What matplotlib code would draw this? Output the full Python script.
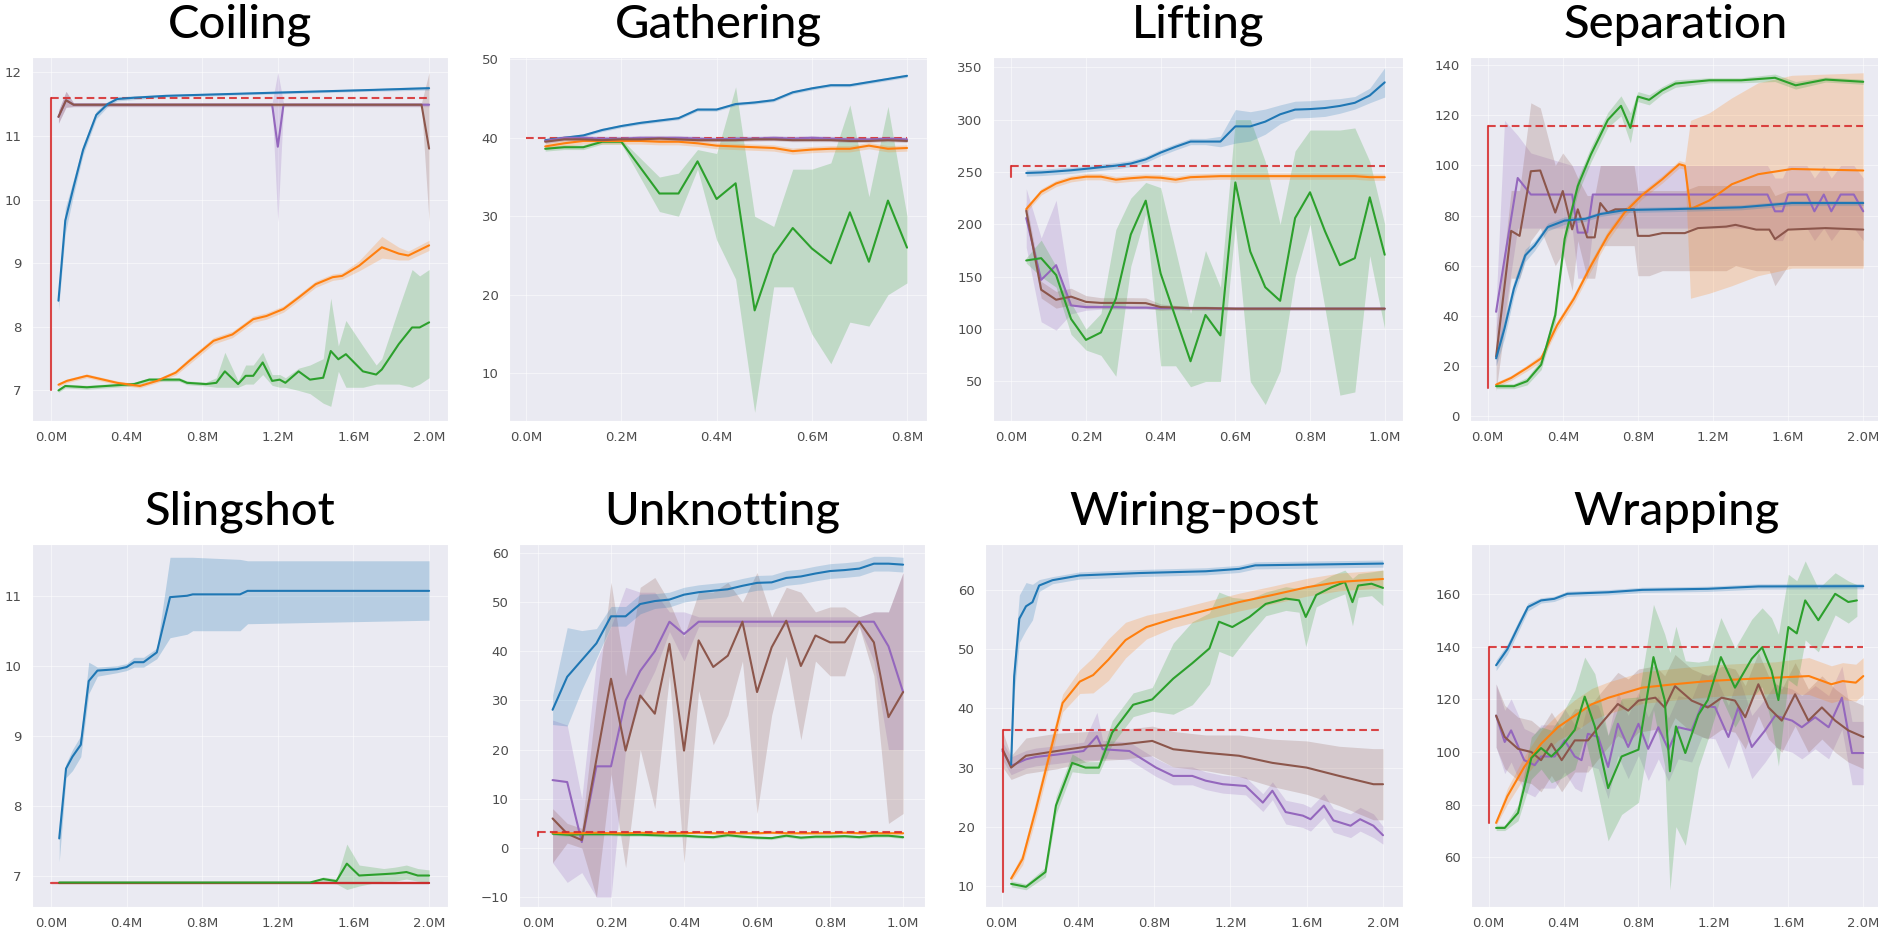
import numpy as np
import matplotlib
matplotlib.use("Agg")
import matplotlib.pyplot as plt
import seaborn as sns
from matplotlib.ticker import FuncFormatter

sns.set_style("darkgrid")
plt.rcParams["font.family"] = ["DejaVu Sans"]

BLUE, ORANGE, GREEN = "#1f77b4", "#ff7f0e", "#2ca02c"
RED, PURPLE, BROWN = "#d62728", "#9467bd", "#8c564b"

# ---------------- Coiling ----------------
coil_blue_x = [0.04, 0.076, 0.12, 0.17, 0.24, 0.30, 0.35, 0.44, 0.61, 0.96, 1.31, 1.67, 2.0]
coil_blue_y = [8.41, 9.67, 10.2, 10.78, 11.33, 11.5, 11.58, 11.6, 11.63, 11.66, 11.69, 11.72, 11.75]
coil_blue_err = [0.15, 0.2, 0.12, 0.08, 0.06, 0.04, 0.03, 0.03, 0.02, 0.02, 0.02, 0.02, 0.03]
coil_orange_x = [0.04, 0.084, 0.19, 0.35, 0.47, 0.56, 0.66, 0.73, 0.86, 0.96, 1.07, 1.14, 1.23,
                 1.31, 1.40, 1.49, 1.54, 1.63, 1.75, 1.84, 1.89, 2.0]
coil_orange_y = [7.09, 7.15, 7.23, 7.12, 7.07, 7.15, 7.28, 7.46, 7.78, 7.88, 8.12, 8.17, 8.28,
                 8.46, 8.67, 8.78, 8.8, 8.96, 9.25, 9.15, 9.12, 9.28]
coil_orange_err = [0.03, 0.03, 0.03, 0.03, 0.03, 0.03, 0.04, 0.05, 0.05, 0.05, 0.05, 0.05, 0.05,
                   0.05, 0.05, 0.05, 0.05, 0.08, 0.17, 0.1, 0.07, 0.08]
coil_green_x = [0.04, 0.076, 0.19, 0.44, 0.52, 0.68, 0.72, 0.82, 0.875, 0.92, 0.99, 1.03, 1.07,
                1.12, 1.17, 1.21, 1.24, 1.31, 1.37, 1.44, 1.48, 1.52, 1.56, 1.65, 1.72, 1.75,
                1.84, 1.91, 1.95, 2.0]
coil_green_y = [7.0, 7.07, 7.05, 7.1, 7.17, 7.17, 7.12, 7.1, 7.12, 7.3, 7.1, 7.23, 7.23,
                7.44, 7.15, 7.17, 7.12, 7.3, 7.17, 7.2, 7.62, 7.49, 7.57, 7.3, 7.25, 7.33,
                7.73, 7.99, 7.99, 8.07]
coil_green_lo = [6.97, 7.04, 7.02, 7.07, 7.14, 7.14, 7.09, 7.07, 7.05, 7.05, 7.05, 7.1, 7.1,
                 7.25, 7.08, 7.05, 7.05, 7.0, 6.95, 6.8, 6.75, 7.3, 7.05, 7.05, 7.1, 7.1,
                 7.1, 7.05, 7.1, 7.2]
coil_green_hi = [7.03, 7.1, 7.08, 7.13, 7.2, 7.2, 7.15, 7.13, 7.2, 7.6, 7.15, 7.4, 7.4,
                 7.6, 7.25, 7.25, 7.2, 7.35, 7.4, 7.5, 8.45, 7.7, 8.1, 7.7, 7.4, 7.5,
                 8.3, 8.9, 8.8, 8.9]
coil_purple_x = [0.04, 0.08, 0.12, 1.17, 1.20, 1.23, 2.0]
coil_purple_y = [11.3, 11.56, 11.49, 11.49, 10.83, 11.49, 11.49]
coil_purple_lo = [11.2, 11.45, 11.46, 11.46, 9.65, 11.46, 11.46]
coil_purple_hi = [11.4, 11.7, 11.52, 11.52, 12.0, 11.52, 11.52]
coil_brown_x = [0.04, 0.08, 0.12, 1.96, 2.0]
coil_brown_y = [11.3, 11.56, 11.49, 11.49, 10.8]
coil_brown_lo = [11.2, 11.45, 11.46, 11.46, 9.65]
coil_brown_hi = [11.4, 11.7, 11.52, 11.52, 12.0]
coil_red = [0.0, 7.0, 11.6]   # x, start value, baseline

# ---------------- Gathering ----------------
gath_x = [0.04, 0.08, 0.12, 0.16, 0.2, 0.24, 0.28, 0.32, 0.36, 0.4,
          0.44, 0.48, 0.52, 0.56, 0.6, 0.64, 0.68, 0.72, 0.76, 0.8]
gath_blue = [39.7, 40.0, 40.3, 41.0, 41.5, 41.9, 42.2, 42.5, 43.6, 43.6,
             44.3, 44.5, 44.8, 45.8, 46.3, 46.7, 46.7, 47.1, 47.5, 47.9]
gath_orange = [38.9, 39.3, 39.6, 39.6, 39.6, 39.6, 39.5, 39.5, 39.3, 39.0,
               38.9, 38.8, 38.7, 38.3, 38.5, 38.6, 38.6, 39.0, 38.6, 38.7]
gath_purple = [39.6, 40.0, 40.0, 39.9, 39.9, 40.0, 40.0, 40.0, 39.9, 39.8,
               39.9, 39.9, 40.0, 39.9, 40.0, 39.9, 39.8, 39.8, 39.9, 39.8]
gath_brown = [39.5, 39.8, 39.8, 39.7, 39.8, 39.8, 39.9, 39.8, 39.7, 39.7,
              39.7, 39.8, 39.8, 39.7, 39.7, 39.7, 39.6, 39.6, 39.7, 39.6]
gath_green_x = [0.04, 0.08, 0.12, 0.16, 0.2, 0.28, 0.32, 0.36, 0.4, 0.44,
                0.48, 0.52, 0.56, 0.6, 0.64, 0.68, 0.72, 0.76, 0.8]
gath_green_y = [38.6, 38.8, 38.8, 39.5, 39.5, 32.9, 32.9, 37.0, 32.2, 34.2,
                18.0, 25.1, 28.5, 25.9, 24.0, 30.5, 24.2, 32.0, 26.0]
gath_green_lo = [38.3, 38.5, 38.5, 39.2, 39.2, 30.6, 30.0, 36.0, 27.0, 22.0,
                 5.0, 21.0, 21.0, 15.0, 11.2, 16.5, 16.0, 20.0, 21.5]
gath_green_hi = [38.9, 39.1, 39.1, 39.8, 39.8, 35.0, 35.5, 38.5, 38.0, 46.5,
                 30.0, 28.7, 36.0, 36.0, 36.8, 44.2, 32.5, 44.0, 30.0]
gath_red = [0.0, 40.0, 40.0]

# ---------------- Lifting ----------------
lift_x = [0.04, 0.08, 0.12, 0.16, 0.2, 0.24, 0.28, 0.32, 0.36, 0.4, 0.44, 0.48, 0.52,
          0.56, 0.6, 0.64, 0.68, 0.72, 0.76, 0.8, 0.84, 0.88, 0.92, 0.96, 1.0]
lift_blue = [249, 249.5, 250.5, 251.6, 253, 254.5, 256, 258, 262, 268.5, 274, 279, 279,
             279, 293.5, 293.5, 298, 305, 309.5, 310, 311, 313, 316, 323, 335.5]
lift_blue_err = [3, 3, 3, 3, 3, 3, 3, 3, 3, 3, 3, 3, 3, 5, 16, 14, 12, 9, 8, 8, 8, 7, 6, 7, 14]
lift_orange = [214.5, 231, 239, 243.5, 245.5, 245.5, 242.6, 244, 245, 244.5, 242.6, 245, 245.5,
               246, 246, 246, 246, 246, 246, 246, 246, 246, 246, 245, 245]
lift_green = [165.5, 167.7, 151.6, 109.7, 89.7, 96.8, 129, 190.3, 222.6, 153, 111, 69.3, 113.5,
              94, 240, 174, 140, 127, 206, 230.6, 193.5, 161, 167.7, 225.8, 171]
lift_green_lo = [163, 150, 140, 95, 80, 75, 55, 160, 210, 65, 65, 45, 50,
                 50, 200, 50, 28, 60, 150, 200, 120, 37, 40, 170, 100]
lift_green_hi = [168, 185, 160, 125, 100, 115, 195, 225, 240, 235, 175, 115, 175,
                 140, 300, 300, 260, 200, 270, 290, 290, 290, 292, 260, 200]
lift_purple = [206, 147, 161, 122.6, 121, 121, 121, 120.5, 120.5, 120, 120, 119.8, 119.8,
               119.5, 119.5, 119.5, 119.5, 119.5, 119.5, 119.5, 119.5, 119.5, 119.5, 119.5, 119.5]
lift_purple_err = [28, 40, 62, 8, 3, 2, 2, 1.5, 1.5, 1.5, 1.5, 1.5, 1.5,
                   1.5, 1.5, 1.5, 1.5, 1.5, 1.5, 1.5, 1.5, 1.5, 1.5, 1.5, 1.5]
lift_brown = [213, 137.6, 128, 131, 126, 125, 125, 125, 124.8, 121, 120.6, 120, 120,
              119.8, 119.5, 119.5, 119.5, 119.5, 119.5, 119.5, 119.5, 119.5, 119.5, 119.5, 119.5]
lift_brown_err = [8, 8, 8, 8, 6, 5, 5, 5, 5, 3, 2, 2, 2,
                  1.5, 1.5, 1.5, 1.5, 1.5, 1.5, 1.5, 1.5, 1.5, 1.5, 1.5, 1.5]
lift_red = [0.0, 245.0, 255.5]

# ---------------- Separation ----------------
sep_blue_x = [0.045, 0.09, 0.14, 0.2, 0.25, 0.32, 0.41, 0.52, 0.6, 0.73, 1.0, 1.35, 1.62, 2.0]
sep_blue_y = [23, 35, 50.9, 64.1, 68, 75.4, 78, 78.7, 80.6, 82.2, 82.6, 83.3, 85, 85]
sep_blue_err = [3, 4, 3, 2.5, 2, 1.5, 1.5, 1, 1, 1, 1, 1, 1, 1]
sep_green_x = [0.045, 0.14, 0.21, 0.285, 0.36, 0.41, 0.48, 0.55, 0.64, 0.71, 0.76, 0.8, 0.86,
               0.93, 1.0, 1.18, 1.35, 1.53, 1.64, 1.8, 2.0]
sep_green_y = [11.9, 11.9, 13.9, 20.5, 40.3, 70.7, 91.8, 104.4, 118.2, 123.8, 115, 127.5, 126.2,
               130, 132.7, 134, 134, 135, 132, 134.3, 133.4]
sep_green_err = [1, 1, 1.5, 2, 3, 3, 3, 3, 3, 4, 6, 2, 2, 1.5, 1.5, 1, 1, 1.5, 1.5, 1, 1]
sep_orange_x = [0.045, 0.125, 0.21, 0.285, 0.37, 0.46, 0.55, 0.64, 0.73, 0.82, 0.93, 1.02, 1.05,
                1.08, 1.18, 1.3, 1.44, 1.62, 2.0]
sep_orange_y = [12.5, 15.2, 19.2, 23, 36.3, 46.9, 60, 72, 81.3, 88, 94.5, 100.5, 99.9,
                82.6, 86, 92.5, 96.5, 98.6, 98]
sep_orange_lo = [11.5, 14.2, 18, 21.5, 34.5, 45, 58, 70, 79.5, 86.5, 93, 99, 98.5,
                 47, 49, 52, 56, 59, 59]
sep_orange_hi = [13.5, 16.2, 20.4, 24.5, 38, 48.8, 62, 74, 83, 89.5, 96, 102, 101.3,
                 118, 121, 127, 133, 136, 137]
sep_purple_x = [0.045, 0.09, 0.16, 0.23, 0.45, 0.48, 0.53, 0.56, 1.49, 1.53, 1.57, 1.6, 1.7,
                1.74, 1.79, 1.83, 1.88, 1.95, 2.0]
sep_purple_y = [41.6, 62.7, 95, 88.4, 88.4, 73.2, 73.2, 88.4, 88.4, 81.7, 81.7, 88.4, 88.4,
                81.7, 88.4, 81.7, 88.4, 88.4, 81.7]
sep_purple_lo = [20, 40, 75, 75, 75, 55, 55, 75, 75, 70, 70, 75, 75, 70, 75, 70, 75, 75, 70]
sep_purple_hi = [45, 118, 112, 105, 100, 100, 100, 100, 100, 95, 95, 100, 100, 95, 100, 95, 100, 100, 95]
sep_brown_x = [0.045, 0.125, 0.17, 0.23, 0.28, 0.36, 0.4, 0.45, 0.48, 0.53, 0.57, 0.6, 0.64, 0.68,
               0.78, 0.8, 0.86, 0.93, 1.05, 1.12, 1.27, 1.32, 1.43, 1.5, 1.53, 1.6, 1.8, 2.0]
sep_brown_y = [23.7, 73.9, 71.9, 97.7, 98, 81.2, 89.8, 74.5, 82.5, 71.3, 71.3, 85, 81.2, 82.5,
               82.5, 71.9, 71.9, 73, 73, 75, 75.6, 76.3, 74.4, 74.4, 70.6, 74.4, 75, 74.4]
sep_brown_lo = [10, 55, 55, 70, 75, 60, 65, 50, 70, 55, 55, 68, 68, 68,
                68, 56, 56, 58, 58, 58, 58, 60, 58, 58, 52, 60, 60, 60]
sep_brown_hi = [35, 90, 90, 125, 123, 100, 105, 100, 95, 88, 88, 100, 100, 100,
                100, 90, 90, 90, 90, 92, 92, 92, 92, 92, 88, 90, 90, 90]
sep_red = [0.0, 11.2, 115.8]

# ---------------- Slingshot ----------------
sling_blue_x = [0.044, 0.08, 0.114, 0.158, 0.2, 0.246, 0.35, 0.4, 0.44, 0.49, 0.56, 0.63, 0.72,
                0.75, 1.0, 1.04, 2.0]
sling_blue_y = [7.53, 8.53, 8.7, 8.87, 9.78, 9.93, 9.95, 9.98, 10.05, 10.05, 10.19, 10.98, 11.0,
                11.02, 11.02, 11.07, 11.07]
sling_blue_lo = [7.2, 8.4, 8.5, 8.7, 9.6, 9.85, 9.9, 9.93, 9.98, 9.98, 10.1, 10.4, 10.45,
                 10.5, 10.5, 10.6, 10.65]
sling_blue_hi = [7.6, 8.6, 8.8, 9.0, 10.05, 9.98, 10.0, 10.03, 10.12, 10.12, 10.25, 11.55, 11.55,
                 11.55, 11.52, 11.5, 11.5]
sling_green_x = [0.044, 1.37, 1.44, 1.51, 1.565, 1.63, 1.76, 1.82, 1.88, 1.94, 2.0]
sling_green_y = [6.9, 6.9, 6.95, 6.92, 7.17, 7.0, 7.02, 7.03, 7.05, 7.0, 7.0]
sling_green_lo = [6.9, 6.9, 6.9, 6.88, 6.8, 6.85, 6.92, 6.92, 6.95, 6.92, 6.9]
sling_green_hi = [6.9, 6.9, 6.98, 6.95, 7.45, 7.15, 7.1, 7.12, 7.15, 7.1, 7.08]
sling_flat_x = [0.044, 2.0]
sling_flat_y = [6.9, 6.9]
sling_red = [0.0, 6.9, 6.9]

# ---------------- Unknotting ----------------
unk_x = [0.04, 0.08, 0.12, 0.16, 0.2, 0.24, 0.28, 0.32, 0.36, 0.4, 0.44, 0.48, 0.52,
         0.56, 0.6, 0.64, 0.68, 0.72, 0.76, 0.8, 0.84, 0.88, 0.92, 0.96, 1.0]
unk_blue = [28.1, 34.8, 38.2, 41.6, 47.1, 47.1, 49.6, 50.2, 50.5, 51.5, 52, 52.3, 52.6,
            53.3, 53.9, 54, 54.9, 55.2, 55.8, 56.3, 56.5, 56.8, 57.8, 57.8, 57.6]
unk_blue_err = [3, 10, 6, 3, 2, 2, 2, 1.5, 1.5, 1.5, 1.5, 1.5, 1.5,
                1.5, 1.5, 1.5, 1.5, 1.5, 1.5, 1.5, 1.5, 1.5, 1.5, 1.5, 1.5]
unk_purple = [13.8, 13.4, 1.2, 16.6, 16.6, 30, 36, 40, 46, 43.5, 46, 46, 46,
              46, 46, 46, 46, 46, 46, 46, 46, 46, 46, 41, 31.7]
unk_purple_lo = [-3, -7, -5, -10, -10, 20, 30, 36, 44, 38, 45, 45, 45,
                 45, 45, 45, 45, 45, 45, 45, 45, 45, 38, 20, 20]
unk_purple_hi = [26, 25, 10, 38, 45, 53, 52, 52, 48, 48, 47, 47, 47,
                 47, 47, 47, 47, 47, 47, 47, 47, 47, 48, 48, 56]
unk_brown = [6, 2.9, 1.6, 18, 34.4, 19.8, 31, 27.3, 41.5, 19.8, 42.2, 36.8, 39.1,
             46, 31.7, 40.8, 46.2, 37, 43.2, 41.8, 41.8, 46, 41.8, 26.6, 31.7]
unk_brown_lo = [-3, 1, 0, -10, 15, -4, 20, 8, 35, -3, 32, 21, 27,
                38, 7, 27, 39, 22, 38, 35, 35, 45, 35, 5, 7]
unk_brown_hi = [8, 5, 4, 30, 54, 35, 53, 55, 50, 43, 52, 52, 54,
                50, 56, 47, 53, 52, 48, 49, 49, 47, 48, 48, 56]
unk_green = [2.9, 2.7, 2.8, 2.8, 2.8, 2.7, 2.7, 2.6, 2.5, 2.5, 2.3, 2.2, 2.6,
             2.3, 2.1, 2.0, 2.5, 2.1, 2.3, 2.3, 2.4, 2.2, 2.5, 2.5, 2.2]
unk_orange = [3.1, 3.0, 3.0, 3.1, 3.0, 3.0, 3.1, 3.0, 3.0, 3.0, 3.1, 3.0, 3.0,
              3.0, 3.0, 3.1, 3.0, 3.0, 3.0, 3.0, 3.1, 3.0, 3.0, 3.0, 3.0]
unk_red = [0.0, 2.5, 3.3]

# ---------------- Wiring-post ----------------
wire_blue_x = [0.05, 0.066, 0.093, 0.128, 0.162, 0.197, 0.267, 0.41, 0.72, 1.07, 1.245, 1.33, 2.0]
wire_blue_y = [30.5, 45.4, 55.1, 57.2, 57.9, 60.7, 61.6, 62.4, 62.8, 63.1, 63.5, 64.1, 64.4]
wire_blue_err = [1, 3, 4, 4, 3, 1, 0.6, 0.6, 0.6, 0.6, 0.6, 0.6, 0.6]
wire_orange_x = [0.05, 0.11, 0.18, 0.25, 0.32, 0.41, 0.48, 0.56, 0.65, 0.76, 0.9, 1.07, 1.245,
                 1.42, 1.6, 1.77, 2.0]
wire_orange_y = [11.3, 14.6, 23, 32, 40.9, 44.5, 45.6, 48.2, 51.5, 53.7, 55.1, 56.5, 57.9,
                 59.1, 60.4, 61.3, 61.8]
wire_orange_err = [0.5, 1, 1.5, 1.5, 1.5, 2, 3, 3.5, 3, 2, 1.5, 1.5, 1.5, 1.5, 1.5, 1.5, 1.5]
wire_green_x = [0.05, 0.128, 0.23, 0.285, 0.37, 0.44, 0.51, 0.58, 0.69, 0.79, 0.9, 1.0, 1.09,
                1.14, 1.21, 1.3, 1.385, 1.49, 1.56, 1.595, 1.65, 1.73, 1.8, 1.84, 1.87, 1.94, 2.0]
wire_green_y = [10.4, 9.9, 12.4, 23.6, 30.8, 30, 30, 35.9, 40.6, 41.5, 45, 47.6, 50.1,
                54.6, 53.7, 55.4, 57.6, 58.5, 58.2, 55.4, 59.1, 60.4, 61.3, 57.9, 60.7, 61, 60.3]
wire_green_err = [0.5, 0.5, 0.8, 1.5, 1.5, 1, 1, 2, 2, 2, 6, 7, 6,
                  5, 5, 3, 2, 2, 2, 5, 2, 2, 2, 4, 2, 2, 3]
wire_purple_x = [0.005, 0.05, 0.128, 0.18, 0.29, 0.43, 0.5, 0.53, 0.67, 0.81, 0.9, 1.0, 1.07,
                 1.16, 1.28, 1.37, 1.42, 1.49, 1.58, 1.62, 1.69, 1.74, 1.83, 1.88, 1.95, 2.0]
wire_purple_y = [32.8, 30.3, 31.4, 31.8, 32.2, 32.8, 35.3, 33.1, 32.8, 30, 28.6, 28.6, 27.8,
                 27.2, 26.9, 24.1, 26.1, 22.5, 21.9, 21.3, 23.6, 21.1, 20.2, 21.3, 20.2, 18.6]
wire_purple_err = [1.5, 1.5, 1.5, 1.5, 1.5, 1.5, 4, 1.5, 1.5, 1.5, 1.5, 1.5, 1.5,
                   1.5, 1.5, 1.5, 1.5, 2, 2, 2, 2, 2, 2, 2, 2, 1.5]
wire_brown_x = [0.005, 0.05, 0.128, 0.29, 0.46, 0.63, 0.79, 0.9, 1.07, 1.245, 1.42, 1.6, 1.77, 1.95, 2.0]
wire_brown_y = [33.1, 30, 32, 32.8, 33.6, 33.9, 34.5, 33.1, 32.5, 32, 30.8, 30, 28.6, 27.2, 27.2]
wire_brown_err = [3, 2, 3, 3, 2.5, 2.5, 2.5, 3, 3, 3.5, 4, 4.5, 5, 6, 6]
wire_red = [0.005, 9.0, 36.4]

# ---------------- Wrapping ----------------
wrap_blue_x = [0.04, 0.1, 0.157, 0.21, 0.28, 0.35, 0.42, 0.64, 0.82, 1.17, 1.44, 2.0]
wrap_blue_y = [132.9, 139, 147.4, 155, 157.5, 158.1, 160, 160.6, 161.5, 161.9, 162.8, 162.9]
wrap_blue_err = [2, 2, 2, 1.5, 1, 1, 1, 1, 1, 1, 1, 1]
wrap_orange_x = [0.04, 0.1, 0.19, 0.28, 0.37, 0.46, 0.55, 0.64, 0.82, 0.99, 1.17, 1.35, 1.53,
                 1.71, 1.83, 1.89, 1.96, 2.0]
wrap_orange_y = [73.1, 83.2, 94.3, 103.1, 109.4, 113.8, 118.1, 120.6, 124.4, 125.7, 126.9, 127.6,
                 128.2, 128.8, 125.7, 126.9, 126.3, 128.8]
wrap_orange_err = [1, 3, 4, 5, 5, 6, 6, 6, 6, 6, 6, 6, 6, 7, 7, 7, 7, 7]
wrap_green_x = [0.04, 0.086, 0.157, 0.228, 0.28, 0.335, 0.39, 0.46, 0.513, 0.567, 0.638, 0.71,
                0.8, 0.88, 0.94, 0.968, 1.0, 1.05, 1.12, 1.17, 1.24, 1.315, 1.405, 1.46, 1.51,
                1.547, 1.6, 1.645, 1.69, 1.76, 1.85, 1.92, 1.966]
wrap_green_y = [71.2, 71.2, 76.9, 97.7, 101.5, 98.3, 102.1, 108.4, 121, 109.7, 86.3, 98.3,
                100.9, 136, 119.7, 92.7, 109.7, 99.6, 114.1, 119.7, 136, 124.4, 135.4, 139.7, 130.9,
                119.7, 147.4, 145, 157.5, 150, 160, 156.9, 157.5]
wrap_green_err = [1, 1, 3, 8, 8, 10, 12, 15, 15, 20, 20, 22,
                  20, 20, 25, 45, 38, 35, 20, 15, 15, 15, 15, 15, 20,
                  25, 20, 20, 15, 12, 8, 8, 6]
wrap_purple_x = [0.04, 0.086, 0.12, 0.19, 0.246, 0.28, 0.353, 0.406, 0.46, 0.496, 0.53, 0.585,
                 0.638, 0.69, 0.745, 0.8, 0.852, 0.906, 0.96, 1.012, 1.084, 1.137, 1.209, 1.28,
                 1.333, 1.405, 1.476, 1.53, 1.62, 1.672, 1.743, 1.815, 1.886, 1.94, 2.0]
wrap_purple_y = [113.8, 103.8, 108.2, 96.9, 95, 98.3, 98.3, 104.4, 98.3, 96.9, 106.9, 105.7,
                 94.3, 110.7, 101.9, 110.7, 101.2, 109.4, 100.9, 109.4, 108.2, 117.6, 117, 105.7,
                 117, 101.9, 108.2, 113.8, 111.9, 109.4, 113.2, 109.4, 120.6, 99.6, 99.6]
wrap_purple_err = 12
wrap_brown_x = [0.04, 0.086, 0.157, 0.228, 0.28, 0.335, 0.39, 0.46, 0.53, 0.6, 0.69, 0.745,
                0.8, 0.89, 0.94, 0.995, 1.084, 1.17, 1.244, 1.315, 1.37, 1.44, 1.494, 1.565,
                1.636, 1.707, 1.779, 1.85, 1.92, 2.0]
wrap_brown_y = [113.8, 105.7, 101.2, 100, 96.9, 103.1, 96.9, 104.4, 104.4, 110.7, 118.2, 115.7,
                119.5, 120.6, 116.9, 125, 119.5, 116.9, 120.6, 119.5, 113.2, 125.7, 116.9, 111.9,
                121.9, 111.9, 116.9, 111.9, 108.2, 105.7]
wrap_brown_err = 12
wrap_red = [0.0, 73.0, 140.0]


W, H = 1878, 932
fig = plt.figure(figsize=(W / 100, H / 100), dpi=100)


def make_axes(x0, y0, x1, y1):
    return fig.add_axes([x0 / W, 1 - y1 / H, (x1 - x0) / W, (y1 - y0) / H])


def curve(ax, x, y, color, err=None, lo=None, hi=None, alpha=0.22):
    x = np.asarray(x, float)
    y = np.asarray(y, float)
    if lo is None and err is not None:
        e = np.broadcast_to(np.asarray(err, float), y.shape)
        lo, hi = y - e, y + e
    if lo is not None:
        ax.fill_between(x, lo, hi, color=color, alpha=alpha, lw=0)
    ax.plot(x, y, color=color, lw=1.5)


def oracle(ax, red, xend):
    x0, start, level = red
    ax.plot([x0, x0], [start, level], color=RED, lw=1.5, alpha=0.85)
    ax.plot([x0, xend], [level, level], color=RED, lw=1.5, alpha=0.85,
            ls=(0, (3.7, 2.0)))


def finish(ax, title, xlim, ylim, xticks, yticks):
    ax.set_xlim(*xlim)
    ax.set_ylim(*ylim)
    ax.set_xticks(xticks)
    ax.set_yticks(yticks)
    ax.xaxis.set_major_formatter(FuncFormatter(lambda v, p: f"{v:.1f}M"))
    ax.tick_params(labelsize=9.5, colors="0.3", pad=4)
    ax.grid(color="white", lw=0.6, alpha=0.6)
    ax.set_title(title, fontsize=34, family=["Lato", "DejaVu Sans"],
                 fontweight="medium", color="black", pad=14)


x2m = [0, 0.4, 0.8, 1.2, 1.6, 2.0]

# Coiling
ax = make_axes(32, 57, 448, 421)
curve(ax, coil_purple_x, coil_purple_y, PURPLE, lo=coil_purple_lo, hi=coil_purple_hi)
curve(ax, coil_brown_x, coil_brown_y, BROWN, lo=coil_brown_lo, hi=coil_brown_hi)
oracle(ax, coil_red, 2.0)
curve(ax, coil_green_x, coil_green_y, GREEN, lo=coil_green_lo, hi=coil_green_hi)
curve(ax, coil_orange_x, coil_orange_y, ORANGE, err=coil_orange_err)
curve(ax, coil_blue_x, coil_blue_y, BLUE, err=coil_blue_err)
finish(ax, "Coiling", (-0.1, 2.1), (6.52, 12.24), x2m, [7, 8, 9, 10, 11, 12])

# Gathering
ax = make_axes(509, 57, 927, 421)
oracle(ax, gath_red, 0.8)
curve(ax, gath_green_x, gath_green_y, GREEN, lo=gath_green_lo, hi=gath_green_hi)
curve(ax, gath_x, gath_orange, ORANGE, err=0.4)
curve(ax, gath_x, gath_blue, BLUE, err=0.2)
curve(ax, gath_x, gath_purple, PURPLE, err=0.3)
curve(ax, gath_x, gath_brown, BROWN, err=0.2)
finish(ax, "Gathering", (-0.036, 0.842), (3.9, 50.3), [0, 0.2, 0.4, 0.6, 0.8], [10, 20, 30, 40, 50])

# Lifting
ax = make_axes(993, 57, 1403, 421)
curve(ax, lift_x, lift_purple, PURPLE, err=lift_purple_err)
curve(ax, lift_x, lift_brown, BROWN, err=lift_brown_err)
oracle(ax, lift_red, 1.0)
curve(ax, lift_x, lift_green, GREEN, lo=lift_green_lo, hi=lift_green_hi)
curve(ax, lift_x, lift_orange, ORANGE, err=3)
curve(ax, lift_x, lift_blue, BLUE, err=lift_blue_err)
finish(ax, "Lifting", (-0.049, 1.049), (12.3, 359.7), [0, 0.2, 0.4, 0.6, 0.8, 1.0],
       [50, 100, 150, 200, 250, 300, 350])

# Separation
ax = make_axes(1470, 57, 1882, 421)
curve(ax, sep_purple_x, sep_purple_y, PURPLE, lo=sep_purple_lo, hi=sep_purple_hi)
curve(ax, sep_brown_x, sep_brown_y, BROWN, lo=sep_brown_lo, hi=sep_brown_hi)
oracle(ax, sep_red, 2.0)
curve(ax, sep_orange_x, sep_orange_y, ORANGE, lo=sep_orange_lo, hi=sep_orange_hi)
curve(ax, sep_green_x, sep_green_y, GREEN, err=sep_green_err)
curve(ax, sep_blue_x, sep_blue_y, BLUE, err=sep_blue_err)
finish(ax, "Separation", (-0.094, 2.1), (-2, 143.3), x2m, [0, 20, 40, 60, 80, 100, 120, 140])

# Slingshot
ax = make_axes(32, 544, 448, 907)
curve(ax, sling_flat_x, sling_flat_y, PURPLE)
curve(ax, sling_flat_x, sling_flat_y, BROWN)
ax.plot([sling_red[0], 2.0], [sling_red[2], sling_red[2]], color=RED, lw=1.6, alpha=0.85)
curve(ax, sling_green_x, sling_green_y, GREEN, lo=sling_green_lo, hi=sling_green_hi)
curve(ax, sling_blue_x, sling_blue_y, BLUE, lo=sling_blue_lo, hi=sling_blue_hi, alpha=0.25)
finish(ax, "Slingshot", (-0.1, 2.1), (6.55, 11.74), x2m, [7, 8, 9, 10, 11])

# Unknotting
ax = make_axes(519, 544, 925, 907)
curve(ax, unk_x, unk_purple, PURPLE, lo=unk_purple_lo, hi=unk_purple_hi)
curve(ax, unk_x, unk_brown, BROWN, lo=unk_brown_lo, hi=unk_brown_hi)
curve(ax, unk_x, unk_green, GREEN, err=0.3)
curve(ax, unk_x, unk_orange, ORANGE, err=0.2)
oracle(ax, unk_red, 1.0)
curve(ax, unk_x, unk_blue, BLUE, err=unk_blue_err)
finish(ax, "Unknotting", (-0.052, 1.06), (-12, 61.8), [0, 0.2, 0.4, 0.6, 0.8, 1.0],
       [-10, 0, 10, 20, 30, 40, 50, 60])

# Wiring-post
ax = make_axes(985, 544, 1403, 907)
curve(ax, wire_purple_x, wire_purple_y, PURPLE, err=wire_purple_err)
curve(ax, wire_brown_x, wire_brown_y, BROWN, err=wire_brown_err)
oracle(ax, wire_red, 2.0)
curve(ax, wire_green_x, wire_green_y, GREEN, err=wire_green_err)
curve(ax, wire_orange_x, wire_orange_y, ORANGE, err=wire_orange_err)
curve(ax, wire_blue_x, wire_blue_y, BLUE, err=wire_blue_err)
finish(ax, "Wiring-post", (-0.087, 2.105), (6.5, 67.7), x2m, [10, 20, 30, 40, 50, 60])

# Wrapping
ax = make_axes(1471, 544, 1882, 907)
curve(ax, wrap_purple_x, wrap_purple_y, PURPLE, err=wrap_purple_err)
curve(ax, wrap_brown_x, wrap_brown_y, BROWN, err=wrap_brown_err)
oracle(ax, wrap_red, 2.0)
curve(ax, wrap_orange_x, wrap_orange_y, ORANGE, err=wrap_orange_err)
curve(ax, wrap_green_x, wrap_green_y, GREEN, err=wrap_green_err)
curve(ax, wrap_blue_x, wrap_blue_y, BLUE, err=wrap_blue_err)
finish(ax, "Wrapping", (-0.094, 2.1), (41.2, 178.9), x2m, [60, 80, 100, 120, 140, 160])

fig.savefig("out.png", dpi=100, facecolor="white")
